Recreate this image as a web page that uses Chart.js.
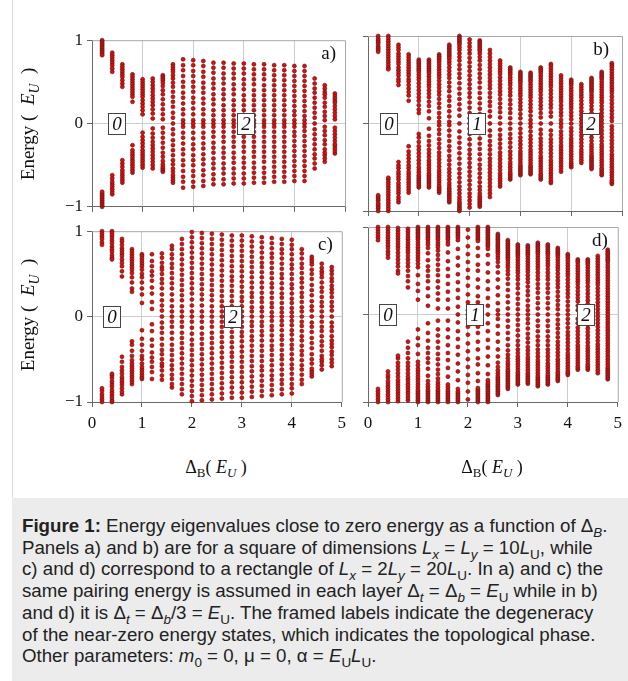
<!DOCTYPE html>
<html lang="en">
<head>
<meta charset="UTF-8">
<title>Energy eigenvalues vs pairing</title>
<script src="https://cdn.jsdelivr.net/npm/chart.js"></script>
<style>
  body { margin: 0; background: #fff; width: 628px; height: 681px; position: relative; overflow: hidden; font-family: "Liberation Serif", serif; }
  .edge { position: absolute; left: 12px; top: 0; width: 1px; height: 681px; background: #dcdcdc; }
  canvas { position: absolute; }
  .ytitle { position: absolute; font-size: 19px; transform: translate(-50%, -50%) rotate(-90deg); white-space: nowrap; color: #111; }
  .xtitle { position: absolute; font-size: 18px; transform: translate(-50%, -50%); white-space: nowrap; color: #111; }
  sub { font-size: 0.72em; line-height: 0; }
  .caption { position: absolute; left: 12px; top: 498px; width: 616px; height: 183px; background: #ececec; box-sizing: border-box;
             padding: 17px 0 0 10px; font-family: "Liberation Sans", Arial, sans-serif; font-size: 18.7px; line-height: 21.7px; color: #222; white-space: nowrap; }
</style>
</head>
<body>
<div class="edge"></div>

<canvas id="panelA" width="312" height="195" style="left:40px; top:26px;"></canvas>
<canvas id="panelB" width="288" height="195" style="left:340px; top:26px;"></canvas>
<canvas id="panelC" width="312" height="225" style="left:40px; top:217px;"></canvas>
<canvas id="panelD" width="288" height="225" style="left:340px; top:217px;"></canvas>

<div class="ytitle" style="left:28px; top:124px;">Energy (&ensp;<i>E<sub>U</sub></i>&ensp;)</div>
<div class="ytitle" style="left:28px; top:315px;">Energy (&ensp;<i>E<sub>U</sub></i>&ensp;)</div>
<div class="xtitle" style="left:216px; top:467px;">&Delta;<sub>B</sub>( <i>E<sub>U</sub></i> )</div>
<div class="xtitle" style="left:492px; top:467px;">&Delta;<sub>B</sub>( <i>E<sub>U</sub></i> )</div>

<div class="caption">
<b>Figure 1:</b> Energy eigenvalues close to zero energy as a function of &Delta;<sub><i>B</i></sub>.<br>
Panels a) and b) are for a square of dimensions <i>L<sub>x</sub></i> = <i>L<sub>y</sub></i> = 10<i>L</i><sub>U</sub>, while<br>
c) and d) correspond to a rectangle of <i>L<sub>x</sub></i> = 2<i>L<sub>y</sub></i> = 20<i>L</i><sub>U</sub>. In a) and c) the<br>
same pairing energy is assumed in each layer &Delta;<sub><i>t</i></sub> = &Delta;<sub><i>b</i></sub> = <i>E</i><sub>U</sub> while in b)<br>
and d) it is &Delta;<sub><i>t</i></sub> = &Delta;<sub><i>b</i></sub>/3 = <i>E</i><sub>U</sub>. The framed labels indicate the degeneracy<br>
of the near-zero energy states, which indicates the topological phase.<br>
Other parameters: <i>m</i><sub>0</sub> = 0, &mu; = 0, &alpha; = <i>E</i><sub>U</sub><i>L</i><sub>U</sub>.
</div>

<script>
// Delta_B values of the computed columns (units of E_U)
const deltaB = [0.2, 0.4, 0.6, 0.8, 1.0, 1.2, 1.4, 1.6, 1.8, 2.0, 2.2, 2.4,
                2.6, 2.8, 3.0, 3.2, 3.4, 3.6, 3.8, 4.0, 4.2, 4.4, 4.6, 4.8];

// positive energies per column, in hundredths of E_U (spectrum is +/- symmetric)
const panelA = [
  [100,98,96,94,92,90,88,86,84,82],
  [85,82,79,76,73,70,66,62],
  [71,68,65,62,59,56,52,48,44],
  [59,56,53,50,47,44,41,38,35,32,26],
  [53,50,47,44,41,38,35,32,28,24,20,16,11],
  [54,50,46,42,38,34,30,26,22,17,12,6],
  [58,56,54,52,49,45,40,35,29,23,17,11,5],
  [71,68,65,62,58,54,49,44,38,32,26,20,13,7,0],
  [77,70,64,57,50,44,37,31,24,17,11,4,0],
  [76,70,63,57,50,44,38,31,25,18,11,4,0],
  [75,69,62,56,49,43,37,30,24,17,11,4,0],
  [73,67,61,54,48,42,35,29,23,16,10,4,0],
  [73,67,60,54,48,41,35,29,22,16,10,4,0],
  [72,66,60,54,47,41,35,28,22,16,10,4,0],
  [72,66,60,53,47,41,34,28,22,16,10,4,0],
  [71,65,59,53,47,40,34,28,22,16,10,4,0],
  [71,65,59,53,46,40,34,28,22,16,10,4,0],
  [70,64,58,52,46,40,34,28,22,16,10,4,0],
  [70,64,58,52,46,40,34,28,22,16,10,4,0],
  [69,63,57,51,45,39,33,27,21,15,10,4,0],
  [69,63,57,51,45,39,33,27,21,15,9,4,0],
  [54,48,42,37,31,25,19,13,7,0],
  [46,42,38,35,31,25,20,14,9,4],
  [36,33,30,27,25,21,17,13,9,5]
];

const panelB = [
  [100,97,95,93,91,88,86,84,82],
  [100,97,94,91,88,85,82,79,76,73,70,67,64,62],
  [90,87,84,80,77,74,71,68,64,61,58,55,51,48,44],
  [79,76,73,70,67,64,61,58,55,51,48,44,40,36,32,26],
  [73,71,69,67,65,63,61,59,56,53,50,46,42,38,34,30,26,21,16,12],
  [73,71,69,67,65,63,61,59,57,54,51,48,45,42,38,34,30,25,20,14,6],
  [79,77,75,73,71,68,65,62,59,56,53,49,45,41,37,33,28,23,18,12,7,2],
  [90,88,86,84,82,80,78,76,74,71,68,64,60,56,52,47,42,37,31,26,20,14,8,2],
  [100,98,96,94,92,90,87,84,80,76,72,67,62,57,52,46,40,34,28,22,16,9,0],
  [96,92,88,84,80,75,70,65,60,55,50,45,40,35,30,24,18,12,6,0],
  [95,93,91,89,87,85,83,80,76,72,67,62,57,52,47,41,35,29,23,17,11,5,0],
  [84,80,76,72,68,64,60,56,52,48,44,40,35,30,25,20,14,8,0],
  [72,69,66,63,60,57,53,49,45,41,37,33,28,23,18,13,7,0],
  [64,62,60,58,56,53,50,47,44,40,36,32,27,22,17,12,6,0],
  [59,57,55,53,51,49,47,44,41,38,35,32,28,24,20,16,11,6,0],
  [58,56,54,52,50,48,45,42,39,36,33,30,26,22,18,14,9,4,0],
  [64,62,60,58,55,52,49,46,43,40,37,33,29,25,21,17,12,7,0],
  [68,66,63,60,57,54,51,48,45,42,38,34,30,26,22,18,13,8,0],
  [55,52,49,46,43,40,37,34,31,28,25,21,17,13,9,4,0],
  [50,48,46,44,41,38,35,32,29,26,23,20,17,13,9,5,0],
  [45,42,39,36,33,30,26,22,18,14,10,6,2],
  [52,50,48,46,44,42,40,38,36,33,30,27,24,20,16,12,8,4,0],
  [59,57,55,53,51,48,45,42,39,36,33,30,27,24,20,16,12,8,4,0],
  [69,67,65,62,59,56,53,50,47,44,41,38,35,31,27,23,19,15,11,7,3]
];

const panelC = [
  [100,97,94,91,87,84],
  [100,98,95,92,89,86,82,79,76,72,69,67],
  [91,88,84,80,77,74,71,67,63,59,53,47],
  [79,76,73,70,67,64,61,58,55,51,46,40,33,29],
  [73,71,68,65,62,59,55,50,46,40,33,26,16],
  [73,65,59,53,48,42,34,27,17,9],
  [74,69,63,58,55,50,44,39,33,26,19,13,7,0],
  [83,79,73,68,62,57,51,45,39,33,26,19,12,6,0],
  [91,85,79,73,67,61,55,49,43,37,31,25,19,12,6,0],
  [99,93,87,81,75,69,63,57,51,45,39,33,27,20,13,6,0],
  [98,92,86,80,74,68,62,56,50,44,38,32,26,20,13,6,0],
  [97,91,85,79,73,67,61,55,49,43,37,31,25,19,12,6,0],
  [96,90,84,78,72,66,60,54,48,42,36,30,24,18,12,6,0],
  [95,89,83,77,71,65,59,53,47,42,36,30,24,18,12,6,0],
  [95,89,83,77,71,65,59,53,47,41,35,29,23,18,12,6,0],
  [94,88,82,76,70,64,58,52,46,40,34,28,23,17,11,6,0],
  [93,87,81,75,69,63,58,52,46,40,34,28,22,17,11,6,0],
  [92,86,80,74,69,63,57,51,45,39,34,28,22,16,11,5,0],
  [91,85,79,74,68,62,56,50,45,39,33,27,22,16,10,5,0],
  [90,84,79,73,67,61,56,50,44,38,33,27,21,16,10,5,0],
  [79,74,68,62,57,51,45,40,34,28,23,17,11,6,0],
  [70,67,64,61,55,50,44,37,31,25,18,12,7,0],
  [62,57,53,50,46,40,34,29,23,17,12,6,0],
  [58,54,50,45,41,36,32,28,23,17,12,7,0]
];

const panelD = [
  [100,97,94,91,88,85],
  [100,97,94,91,88,85,82,79,76,72,69,65],
  [99,96,93,90,87,84,81,78,75,71,67,63,59,55,50,47],
  [98,95,92,89,86,83,80,77,74,71,67,63,59,55,50,44,38,31],
  [100,98,96,94,92,90,88,86,83,80,77,74,71,68,65,62,58,54,45,35,27,17],
  [100,98,96,94,92,90,88,86,83,80,76,70,62,55,50,44,38,30,21,10],
  [100,98,96,94,92,90,88,86,83,80,77,73,68,63,57,51,45,38,31,24,17,7],
  [100,98,96,94,92,90,88,86,83,80,71,61,52,44,35,26,17,7],
  [100,98,96,94,92,90,88,85,75,65,56,46,37,28,19,9,0],
  [97,88,78,69,60,51,42,33,23,14,5,0],
  [100,98,96,94,92,90,88,86,84,76,67,57,50,40,31,21,14,5,0],
  [100,98,96,94,92,90,88,86,84,82,80,78,75,68,58,48,38,29,19,10,0],
  [92,90,88,86,84,82,80,78,76,74,72,70,67,64,60,55,48,40,31,22,13,5,0],
  [85,83,81,79,77,75,73,71,69,67,65,63,60,57,54,50,46,41,35,28,21,14,7,0],
  [80,78,76,74,72,70,68,66,63,60,57,54,51,48,44,40,35,30,24,18,12,6,0],
  [79,77,75,73,71,69,67,64,61,58,55,52,49,45,41,37,32,27,22,16,10,5,0],
  [82,80,78,76,74,72,70,67,64,61,58,55,52,48,44,40,35,30,25,19,13,7,0],
  [80,78,76,74,72,70,68,65,62,59,56,52,48,44,40,35,30,25,19,13,7,0],
  [76,74,72,70,68,66,63,60,57,54,51,47,43,39,35,31,26,21,16,11,6,0],
  [69,67,65,62,59,56,53,50,47,44,40,36,32,28,24,20,15,10,5,0],
  [63,61,59,56,53,50,47,44,41,38,35,31,27,23,19,15,10,5],
  [63,61,59,57,54,51,48,45,42,39,36,32,28,24,20,16,12,8,4],
  [67,64,61,58,55,52,49,46,43,40,37,34,30,26,22,18,14,10,6,2],
  [74,72,70,68,66,64,62,60,57,54,51,48,45,42,39,36,33,30,27,24,21,18,15,12,9,6,3,0]
];

const xTicks = [0, 1, 2, 3, 4, 5];
const yTicks = [-1, 0, 1];
const yTickLabels = ['\u22121', '0', '1'];

// framed degeneracy labels: position along Delta_B and text
const boxesA = [{ x: 0.5, text: '0' }, { x: 3.05, text: '2' }];
const boxesB = [{ x: 0.41, text: '0' }, { x: 2.14, text: '1' }, { x: 4.38, text: '2' }];
const boxesC = [{ x: 0.40, text: '0' }, { x: 2.83, text: '2' }];
const boxesD = [{ x: 0.41, text: '0' }, { x: 2.14, text: '1' }, { x: 4.36, text: '2' }];

function toPoints(cols) {
  const pts = [];
  cols.forEach((levels, i) => {
    levels.forEach(e => {
      pts.push({ x: deltaB[i], y: e / 100 });
      if (e !== 0) pts.push({ x: deltaB[i], y: -e / 100 });
    });
  });
  return pts;
}

const panelDecor = {
  id: 'panelDecor',
  beforeDatasetsDraw(chart) {
    const a = chart.chartArea, c = chart.ctx;
    c.save();
    c.strokeStyle = '#a8a8a8';
    c.lineWidth = 1;
    c.beginPath();
    c.moveTo(a.left, a.top + 0.5);
    c.lineTo(a.right + 0.5, a.top + 0.5);
    c.lineTo(a.right + 0.5, a.bottom);
    c.stroke();
    c.restore();
  },
  afterDatasetsDraw(chart, args, opts) {
    const a = chart.chartArea, c = chart.ctx;
    const xs = chart.scales.x, ys = chart.scales.y;
    c.save();
    c.font = 'italic 19px "Liberation Serif"';
    c.textAlign = 'center';
    c.textBaseline = 'middle';
    opts.boxes.forEach(b => {
      const px = Math.round(xs.getPixelForValue(b.x)), py = Math.round(ys.getPixelForValue(0));
      c.fillStyle = '#fff';
      c.fillRect(px - 9, py - 11, 18, 22);
      c.strokeStyle = '#444';
      c.lineWidth = 1;
      c.strokeRect(px - 8.5, py - 10.5, 17, 21);
      c.fillStyle = '#111';
      c.fillText(b.text, px, py + 1);
    });
    c.font = '19px "Liberation Serif"';
    c.textAlign = 'right';
    c.fillStyle = '#111';
    c.fillText(opts.letter, a.right - opts.inset, a.top + 14);
    c.restore();
  }
};

function makePanel(id, cols, letter, boxes, cfg) {
  new Chart(document.getElementById(id), {
    type: 'scatter',
    data: {
      datasets: [{
        data: toPoints(cols),
        pointRadius: 2.0,
        pointHoverRadius: 2.0,
        backgroundColor: '#ff0000',
        borderColor: '#262626',
        borderWidth: 0.6,
        clip: false
      }]
    },
    options: {
      responsive: false,
      animation: false,
      events: [],
      layout: { padding: { left: 0, right: cfg.padRight, top: 10, bottom: 0 } },
      plugins: {
        legend: { display: false },
        tooltip: { enabled: false },
        panelDecor: { letter: letter, boxes: boxes, inset: cfg.inset }
      },
      scales: {
        x: {
          type: 'linear', min: 0, max: 5,
          afterBuildTicks: s => { s.ticks = xTicks.map(v => ({ value: v })); },
          afterFit: s => { s.height = cfg.xHeight; },
          ticks: { display: cfg.showX, color: '#111', padding: 6, maxRotation: 0,
                   font: { family: '"Liberation Serif", serif', size: 17 } },
          grid: { color: g => (g.tick && g.tick.value > 0 && g.tick.value < 5) ? '#cdcdcd' : 'rgba(0,0,0,0)',
                  tickColor: '#666', tickLength: 5 },
          border: { color: '#6a6a6a', width: 1 }
        },
        y: {
          type: 'linear', min: -1, max: 1,
          afterBuildTicks: s => { s.ticks = yTicks.map(v => ({ value: v })); },
          afterFit: s => { s.width = cfg.yWidth; },
          ticks: { display: cfg.showY, color: '#111', padding: 4,
                   font: { family: '"Liberation Serif", serif', size: 17 },
                   callback: (v, i) => yTickLabels[i] },
          grid: { color: g => (g.tick && g.tick.value === 0) ? '#cdcdcd' : 'rgba(0,0,0,0)',
                  tickColor: '#666', tickLength: 5 },
          border: { color: '#6a6a6a', width: 1 }
        }
      }
    },
    plugins: [panelDecor]
  });
}

makePanel('panelA', panelA, 'a)', boxesA, { showX: false, showY: true, xHeight: 10, yWidth: 52, padRight: 7, inset: 9 });
makePanel('panelB', panelB, 'b)', boxesB, { showX: false, showY: false, xHeight: 10, yWidth: 28, padRight: 6, inset: 13 });
makePanel('panelC', panelC, 'c)', boxesC, { showX: true, showY: true, xHeight: 40, yWidth: 52, padRight: 7, inset: 9 });
makePanel('panelD', panelD, 'd)', boxesD, { showX: true, showY: false, xHeight: 40, yWidth: 28, padRight: 6, inset: 10 });
</script>
</body>
</html>
